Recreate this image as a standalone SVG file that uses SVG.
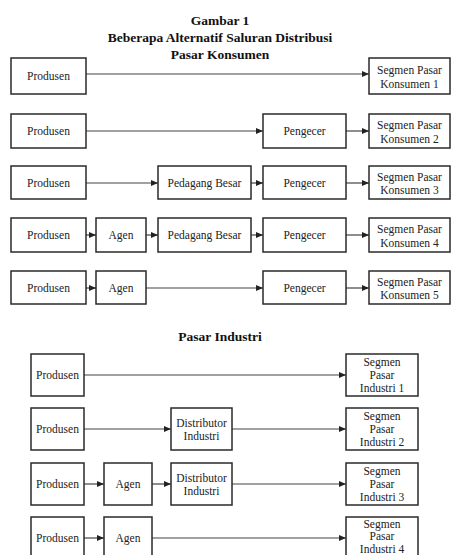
<svg xmlns="http://www.w3.org/2000/svg" width="451" height="555" viewBox="0 0 451 555">
<defs>
<marker id="ah" markerUnits="userSpaceOnUse" markerWidth="7" markerHeight="6" refX="7" refY="3" orient="auto">
<path d="M0,0 L7,3 L0,6 Z" fill="#222"/>
</marker>
<style>
rect{fill:#fff;stroke:#2a2a2a;stroke-width:1.5}
text{font-family:"Liberation Serif","Times New Roman",serif;font-size:11.5px;fill:#222;text-anchor:middle}
.t{font-weight:bold;font-size:13.5px;fill:#111}
#connectors line{stroke:#444;stroke-width:1.2;marker-end:url(#ah)}
</style>
</defs>
<rect x="0" y="0" width="451" height="555" style="fill:#fff;stroke:none"/>
<g id="titles">
<text class="t" x="220" y="25">Gambar 1</text>
<text class="t" x="220" y="42">Beberapa Alternatif Saluran Distribusi</text>
<text class="t" x="220" y="59">Pasar Konsumen</text>
<text class="t" x="220" y="341">Pasar Industri</text>
</g>
<g id="connectors">
<line x1="86" y1="74" x2="369" y2="74"/>
<line x1="86" y1="131" x2="263" y2="131"/>
<line x1="346" y1="131" x2="369" y2="131"/>
<line x1="86" y1="183" x2="158" y2="183"/>
<line x1="251" y1="183" x2="263" y2="183"/>
<line x1="346" y1="183" x2="369" y2="183"/>
<line x1="86" y1="235" x2="96" y2="235"/>
<line x1="146" y1="235" x2="158" y2="235"/>
<line x1="251" y1="235" x2="263" y2="235"/>
<line x1="346" y1="235" x2="369" y2="235"/>
<line x1="86" y1="288" x2="96" y2="288"/>
<line x1="146" y1="288" x2="263" y2="288"/>
<line x1="346" y1="288" x2="369" y2="288"/>
<line x1="84" y1="375" x2="346" y2="375"/>
<line x1="84" y1="429" x2="171" y2="429"/>
<line x1="232" y1="429" x2="346" y2="429"/>
<line x1="84" y1="484" x2="104" y2="484"/>
<line x1="152" y1="484" x2="171" y2="484"/>
<line x1="232" y1="484" x2="346" y2="484"/>
<line x1="84" y1="538" x2="104" y2="538"/>
<line x1="152" y1="538" x2="346" y2="538"/>
</g>
<g id="k1-produsen"><rect x="11" y="58" width="75" height="36"/><text x="48.5" y="80">Produsen</text></g>
<g id="k1-segmen"><rect x="369" y="58" width="81" height="36"/><text x="409.5" y="74">Segmen Pasar</text><text x="409.5" y="87.5">Konsumen 1</text></g>
<g id="k2-produsen"><rect x="11" y="114" width="75" height="34"/><text x="48.5" y="135">Produsen</text></g>
<g id="k2-pengecer"><rect x="263" y="114" width="83" height="34"/><text x="304.5" y="135">Pengecer</text></g>
<g id="k2-segmen"><rect x="369" y="114" width="81" height="34"/><text x="409.5" y="129">Segmen Pasar</text><text x="409.5" y="142.5">Konsumen 2</text></g>
<g id="k3-produsen"><rect x="11" y="166" width="75" height="33"/><text x="48.5" y="186.5">Produsen</text></g>
<g id="k3-pedagang"><rect x="158" y="166" width="93" height="33"/><text x="204.5" y="186.5">Pedagang Besar</text></g>
<g id="k3-pengecer"><rect x="263" y="166" width="83" height="33"/><text x="304.5" y="186.5">Pengecer</text></g>
<g id="k3-segmen"><rect x="369" y="166" width="81" height="33"/><text x="409.5" y="180.5">Segmen Pasar</text><text x="409.5" y="194">Konsumen 3</text></g>
<g id="k4-produsen"><rect x="11" y="218" width="75" height="34"/><text x="48.5" y="239">Produsen</text></g>
<g id="k4-agen"><rect x="96" y="218" width="50" height="34"/><text x="121" y="239">Agen</text></g>
<g id="k4-pedagang"><rect x="158" y="218" width="93" height="34"/><text x="204.5" y="239">Pedagang Besar</text></g>
<g id="k4-pengecer"><rect x="263" y="218" width="83" height="34"/><text x="304.5" y="239">Pengecer</text></g>
<g id="k4-segmen"><rect x="369" y="218" width="81" height="34"/><text x="409.5" y="233">Segmen Pasar</text><text x="409.5" y="246.5">Konsumen 4</text></g>
<g id="k5-produsen"><rect x="11" y="271" width="75" height="33"/><text x="48.5" y="291.5">Produsen</text></g>
<g id="k5-agen"><rect x="96" y="271" width="50" height="33"/><text x="121" y="291.5">Agen</text></g>
<g id="k5-pengecer"><rect x="263" y="271" width="83" height="33"/><text x="304.5" y="291.5">Pengecer</text></g>
<g id="k5-segmen"><rect x="369" y="271" width="81" height="33"/><text x="409.5" y="285.5">Segmen Pasar</text><text x="409.5" y="299">Konsumen 5</text></g>
<g id="i1-produsen"><rect x="31" y="354" width="53" height="42"/><text x="57.5" y="379">Produsen</text></g>
<g id="i1-segmen"><rect x="346" y="354" width="72" height="42"/><text x="382" y="366">Segmen</text><text x="382" y="379">Pasar</text><text x="382" y="392">Industri 1</text></g>
<g id="i2-produsen"><rect x="31" y="408" width="53" height="42"/><text x="57.5" y="433">Produsen</text></g>
<g id="i2-distributor"><rect x="171" y="408" width="61" height="42"/><text x="201.5" y="427">Distributor</text><text x="201.5" y="440">Industri</text></g>
<g id="i2-segmen"><rect x="346" y="408" width="72" height="42"/><text x="382" y="420">Segmen</text><text x="382" y="433">Pasar</text><text x="382" y="446">Industri 2</text></g>
<g id="i3-produsen"><rect x="31" y="463" width="53" height="42"/><text x="57.5" y="488">Produsen</text></g>
<g id="i3-agen"><rect x="104" y="463" width="48" height="42"/><text x="128" y="488">Agen</text></g>
<g id="i3-distributor"><rect x="171" y="463" width="61" height="42"/><text x="201.5" y="482">Distributor</text><text x="201.5" y="495">Industri</text></g>
<g id="i3-segmen"><rect x="346" y="463" width="72" height="42"/><text x="382" y="475">Segmen</text><text x="382" y="488">Pasar</text><text x="382" y="501">Industri 3</text></g>
<g id="i4-produsen"><rect x="31" y="517" width="53" height="44"/><text x="57.5" y="542">Produsen</text></g>
<g id="i4-agen"><rect x="104" y="517" width="48" height="44"/><text x="128" y="542">Agen</text></g>
<g id="i4-segmen"><rect x="346" y="517" width="72" height="44"/><text x="382" y="527.5">Segmen</text><text x="382" y="540">Pasar</text><text x="382" y="552.5">Industri 4</text></g>
</svg>
